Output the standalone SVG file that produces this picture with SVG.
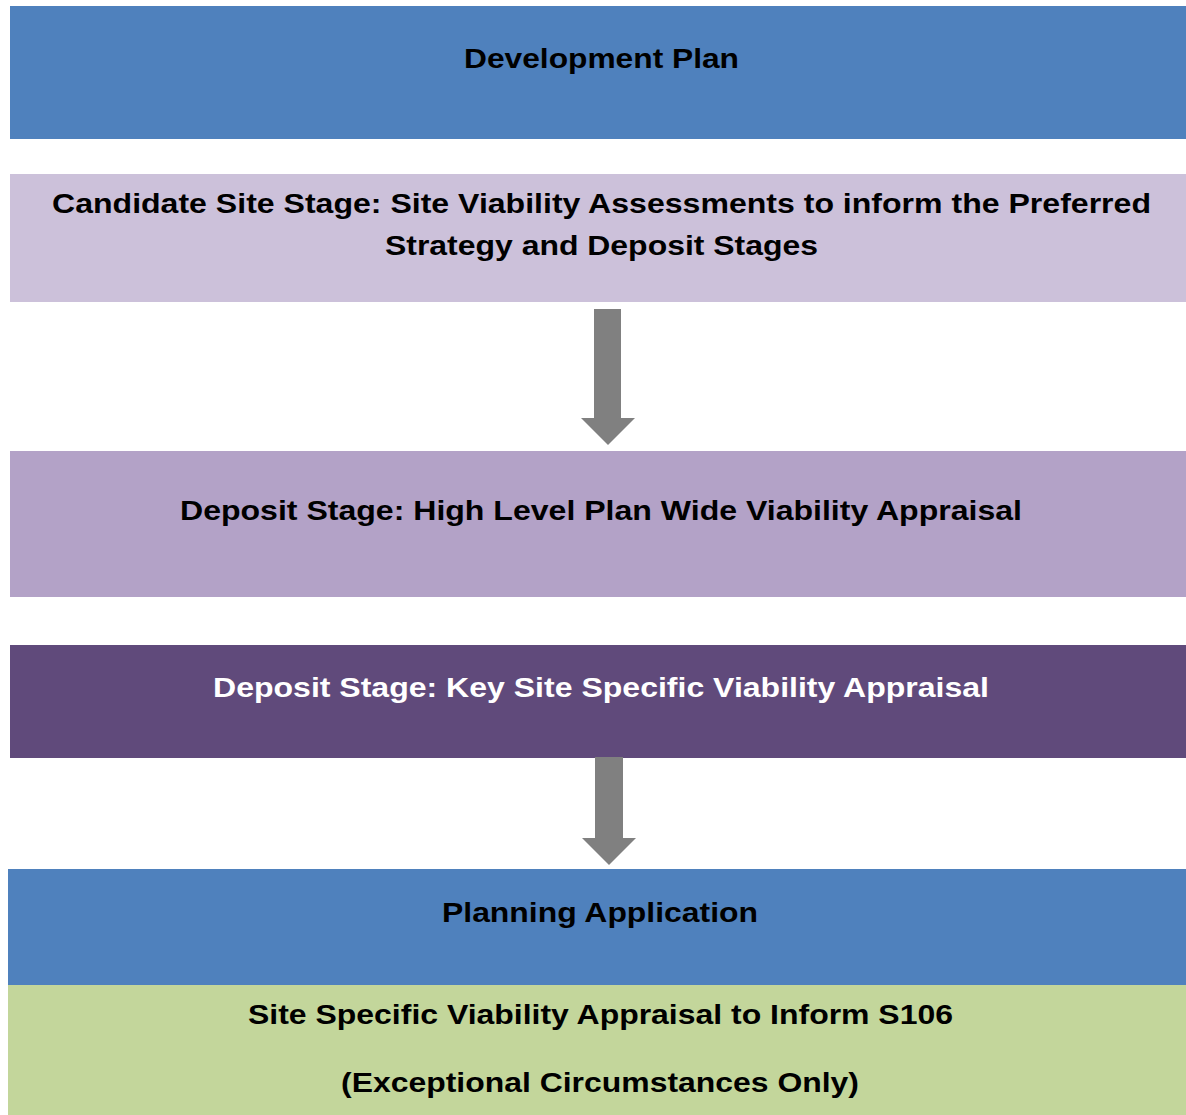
<svg xmlns="http://www.w3.org/2000/svg" width="1186" height="1115" viewBox="0 0 1186 1115">
<style>
  .t { font-family: "Liberation Sans", Arial, sans-serif; font-weight: bold; font-size: 28px; text-anchor: middle; fill: #000; }
  .w { fill: #fff; }
  .arrow { fill: #808080; }
</style>
<rect width="1186" height="1115" fill="#fff"/>
<g id="node-development-plan">
  <rect x="10" y="6" width="1176" height="133" fill="#4F81BD"/>
  <text class="t" x="601.5" y="68" textLength="275" lengthAdjust="spacingAndGlyphs">Development Plan</text>
</g>
<g id="node-candidate-site">
  <rect x="10" y="174" width="1176" height="128" fill="#CCC1DA"/>
  <text class="t" x="601.5" y="213" textLength="1099" lengthAdjust="spacingAndGlyphs">Candidate Site Stage: Site Viability Assessments to inform the Preferred</text>
  <text class="t" x="601.5" y="255" textLength="433" lengthAdjust="spacingAndGlyphs">Strategy and Deposit Stages</text>
</g>
<g id="node-deposit-high-level">
  <rect x="10" y="451" width="1176" height="146" fill="#B3A2C7"/>
  <text class="t" x="601" y="520" textLength="842" lengthAdjust="spacingAndGlyphs">Deposit Stage: High Level Plan Wide Viability Appraisal</text>
</g>
<g id="node-deposit-key-site">
  <rect x="10" y="645" width="1176" height="113" fill="#604A7B"/>
  <text class="t w" x="601" y="697" textLength="776" lengthAdjust="spacingAndGlyphs">Deposit Stage: Key Site Specific Viability Appraisal</text>
</g>
<g id="node-planning-application">
  <rect x="8" y="869" width="1178" height="116" fill="#4F81BD"/>
  <text class="t" x="600" y="922" textLength="316" lengthAdjust="spacingAndGlyphs">Planning Application</text>
</g>
<g id="node-site-specific-s106">
  <rect x="8" y="985" width="1178" height="130" fill="#C3D69B"/>
  <text class="t" x="600.5" y="1024" textLength="705" lengthAdjust="spacingAndGlyphs">Site Specific Viability Appraisal to Inform S106</text>
  <text class="t" x="600" y="1092" textLength="518" lengthAdjust="spacingAndGlyphs">(Exceptional Circumstances Only)</text>
</g>
<g id="connectors">
  <polygon class="arrow" points="594,309 621,309 621,418 635,418 608,445 581,418 594,418"/>
  <polygon class="arrow" points="595,757 623,757 623,838 636,838 609,865 582,838 595,838"/>
</g>
</svg>
